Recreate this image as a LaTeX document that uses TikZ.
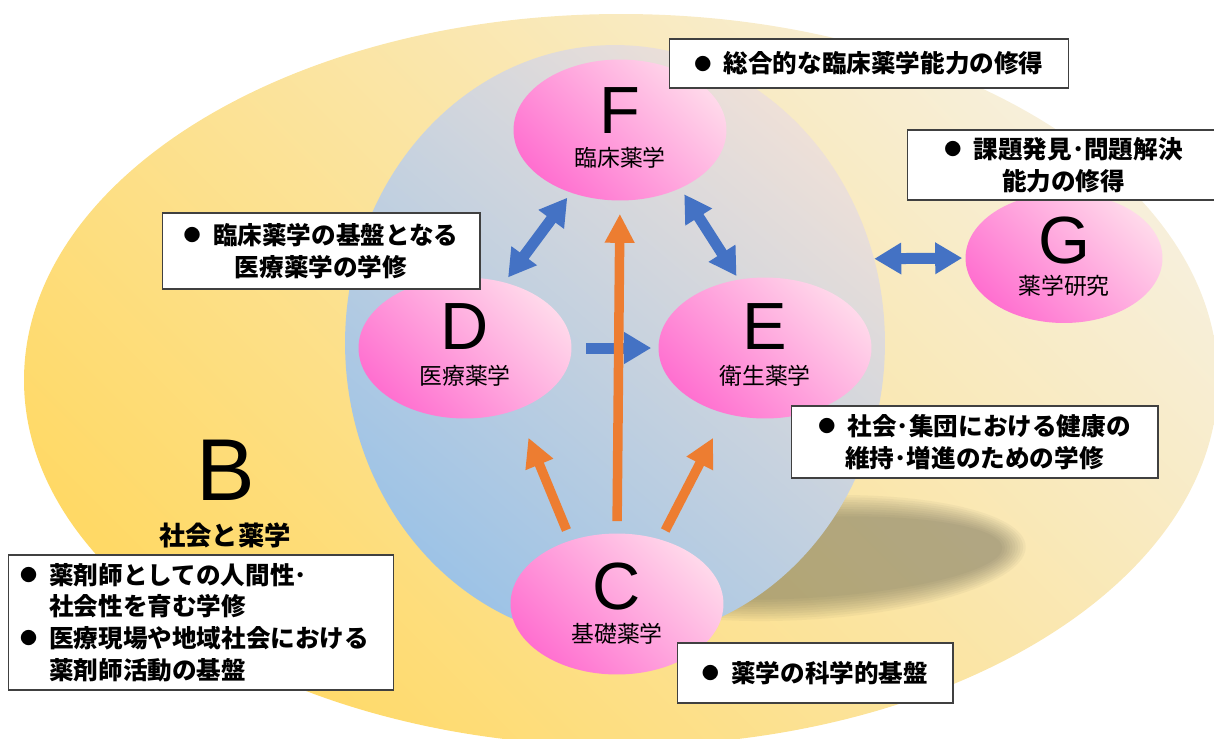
\documentclass[tikz,border=0pt]{standalone}
\usepackage{fontspec}
\setmainfont{Liberation Sans}
\newfontfamily\jpfont{Noto Sans CJK JP}
\usetikzlibrary{arrows.meta,shapes.geometric}

\definecolor{outerdeep}{HTML}{FFD966}
\definecolor{outermid}{HTML}{FBE1A0}
\definecolor{outerlight}{HTML}{F7EFDA}
\definecolor{coreblue}{HTML}{9DC3E6}
\definecolor{coremid}{HTML}{C2CEDE}
\definecolor{corelight}{HTML}{EEE0D8}
\definecolor{pinkdeep}{HTML}{FF70D0}
\definecolor{pinkmid}{HTML}{FFAEFF}
\definecolor{pinklight}{HTML}{FFD8EA}
\definecolor{arrowblue}{HTML}{4472C4}
\definecolor{arroworange}{HTML}{ED7D31}
\definecolor{shadowolive}{RGB}{82,83,72}

\newcommand{\boxfont}{\jpfont\bfseries\fontsize{14}{18}\selectfont}
\newcommand{\bigletter}{\fontsize{38}{40}\selectfont}
\newcommand{\subfont}{\jpfont\fontsize{13}{15}\selectfont}
\newcommand{\bul}{\raisebox{1.5pt}{\fontsize{9.7}{10}\selectfont ●}\hspace{7pt}}

\begin{document}
\begin{tikzpicture}[x=0.02cm,y=-0.02cm,
	unit/.style={ellipse,inner sep=0pt,minimum width=4.26cm,minimum height=2.82cm,
		shade,bottom color=pinkdeep,middle color=pinkmid,top color=pinklight,shading angle=-45},
	letter/.style={font=\bigletter,inner sep=0pt},
	sublabel/.style={font=\subfont,inner sep=0pt},
	note/.style={draw=black!75,line width=0.6pt,fill=white,font=\boxfont,align=center,inner sep=0pt},
	link/.style={arrowblue,line width=0.22cm,-{Triangle[width=0.6cm,length=0.54cm]}},
	twoway/.style={link,{Triangle[width=0.6cm,length=0.54cm]}-{Triangle[width=0.6cm,length=0.54cm]}},
	rise/.style={arroworange,line width=0.19cm,-{Triangle[width=0.56cm,length=0.58cm]}}]
	
	\useasboundingbox (0,0) rectangle (1214,738);
	
	% B: the outer field and the shadow under the core
	\shade[bottom color=outerdeep,middle color=outermid,top color=outerlight,shading angle=-45]
		(621,380) ellipse [x radius=597, y radius=366];
	\foreach \k in {0,...,9}
		\fill[shadowolive,opacity=0.05,rotate around={3:(800,558)}]
			(800,558) ellipse [x radius=226-2.6*\k, y radius=62-2.4*\k];
	\node[ellipse,inner sep=0pt,minimum width=10.8cm,minimum height=11.92cm,
		shade,bottom color=coreblue,middle color=coremid,top color=corelight,shading angle=-40]
		(core) at (615,343) {};
	
	% units
	\node[unit] (F) at (620,130) {};
	\node[unit] (D) at (465,348) {};
	\node[unit] (E) at (765,348) {};
	\node[unit] (C) at (617,604) {};
	\node[unit,minimum width=3.94cm,minimum height=2.6cm] (G) at (1064,258) {};
	
	\node[letter] (Ft) at (620,111) {F};
	\node[sublabel] (Fs) at (620,158) {臨床薬学};
	\node[letter] (Dt) at (465,327) {D};
	\node[sublabel] (Ds) at (465,376) {医療薬学};
	\node[letter] (Et) at (765,327) {E};
	\node[sublabel] (Es) at (765,376) {衛生薬学};
	\node[letter] (Ct) at (617,587) {C};
	\node[sublabel] (Cs) at (617,634) {基礎薬学};
	\node[letter] (Gt) at (1064,241) {G};
	\node[sublabel] (Gs) at (1064,286) {薬学研究};
	
	\node[font=\fontsize{50}{52}\selectfont,inner sep=0pt] (Bt) at (226,470) {B};
	\node[font=\jpfont\bfseries\fontsize{15}{17}\selectfont,inner sep=0pt] (Bs) at (225,535) {社会と薬学};
	
	% arrows
	\draw[twoway,shorten <=0.12cm,shorten >=0.12cm] (F.-128) -- (D.59);
	\draw[twoway,shorten <=0.14cm,shorten >=0.08cm] (F.-44) -- (E.111);
	\draw[link,shorten <=0.28cm,shorten >=0.14cm] (D.east) -- (E.west);
	\draw[twoway,shorten >=0.06cm] (core.18) -- (G.west);
	\draw[rise,shorten <=0.24cm,shorten >=0.26cm] (C.north) -- (F.south);
	\draw[rise,shorten <=0.22cm,shorten >=0.6cm] (C.126) -- (D.-50);
	\draw[rise,shorten <=0.2cm,shorten >=0.54cm] (C.56) -- (E.-121);
	
	% notes
	\node[note,minimum width=8cm,minimum height=0.98cm] (Fn) at (869,63.5) {\bul 総合的な臨床薬学能力の修得};
	\node[note,minimum width=6.26cm,minimum height=1.4cm] (Gn) at (1063.5,165) {\bul 課題発見･問題解決\\能力の修得};
	\node[note,minimum width=6.36cm,minimum height=1.52cm] (Dn) at (321,251) {\bul 臨床薬学の基盤となる\\医療薬学の学修};
	\node[note,minimum width=7.34cm,minimum height=1.44cm] (En) at (974.5,442) {\bul 社会･集団における健康の\\維持･増進のための学修};
	\node[note,minimum width=5.52cm,minimum height=1.2cm] (Cn) at (815,673) {\bul 薬学の科学的基盤};
	\node[note,align=left,text width=7.24cm,minimum width=7.72cm,minimum height=2.7cm] (Bn) at (201,622.5)
		{\bul 薬剤師としての人間性･\\\phantom{\bul}社会性を育む学修\\\bul 医療現場や地域社会における\\\phantom{\bul}薬剤師活動の基盤};
\end{tikzpicture}
\end{document}
